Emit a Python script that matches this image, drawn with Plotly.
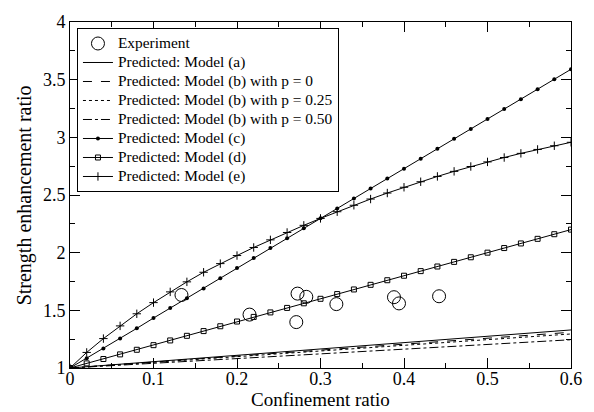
import plotly.graph_objects as go

# ---- data ----
x_model = [0.00, 0.02, 0.04, 0.06, 0.08, 0.10, 0.12, 0.14, 0.16, 0.18, 0.20,
           0.22, 0.24, 0.26, 0.28, 0.30, 0.32, 0.34, 0.36, 0.38, 0.40,
           0.42, 0.44, 0.46, 0.48, 0.50, 0.52, 0.54, 0.56, 0.58, 0.60]
model_c = [1.000, 1.085, 1.170, 1.256, 1.344, 1.433, 1.520, 1.605, 1.690, 1.778, 1.867,
           1.953, 2.040, 2.126, 2.212, 2.298, 2.384, 2.470, 2.556, 2.642, 2.728,
           2.815, 2.901, 2.987, 3.073, 3.159, 3.245, 3.331, 3.417, 3.503, 3.590]
model_d = [1.000, 1.040, 1.078, 1.118, 1.158, 1.198, 1.239, 1.279, 1.320, 1.362, 1.403,
           1.443, 1.482, 1.521, 1.561, 1.600, 1.641, 1.681, 1.721, 1.761, 1.800,
           1.840, 1.880, 1.920, 1.960, 2.000, 2.040, 2.080, 2.120, 2.160, 2.200]
model_e = [1.000, 1.135, 1.255, 1.365, 1.470, 1.567, 1.660, 1.747, 1.830, 1.905, 1.975,
           2.045, 2.111, 2.175, 2.237, 2.297, 2.355, 2.411, 2.465, 2.517, 2.567,
           2.615, 2.661, 2.705, 2.747, 2.787, 2.825, 2.861, 2.895, 2.927, 2.957]

x_line = [0.0, 0.1, 0.2, 0.3, 0.4, 0.5, 0.6]
model_a = [1.000, 1.055, 1.110, 1.165, 1.220, 1.275, 1.330]
model_b_p0 = [1.000, 1.052, 1.103, 1.155, 1.207, 1.258, 1.310]
model_b_p25 = [1.000, 1.049, 1.098, 1.148, 1.197, 1.246, 1.295]
model_b_p50 = [1.000, 1.041, 1.082, 1.123, 1.163, 1.204, 1.245]

exp_x = [0.1335, 0.215, 0.2725, 0.283, 0.271, 0.319, 0.388, 0.394, 0.442]
exp_y = [1.633, 1.463, 1.645, 1.617, 1.398, 1.554, 1.614, 1.560, 1.622]

x_ticks = [0, 0.1, 0.2, 0.3, 0.4, 0.5, 0.6]
x_tick_text = ["0", "0.1", "0.2", "0.3", "0.4", "0.5", "0.6"]
y_ticks = [1, 1.5, 2, 2.5, 3, 3.5, 4]
y_tick_text = ["1", "1.5", "2", "2.5", "3", "3.5", "4"]

series_names = ["Experiment",
                "Predicted: Model (a)",
                "Predicted: Model (b) with p = 0",
                "Predicted: Model (b) with p = 0.25",
                "Predicted: Model (b) with p = 0.50",
                "Predicted: Model (c)",
                "Predicted: Model (d)",
                "Predicted: Model (e)"]

FONT = "Liberation Serif, Times New Roman, serif"


def lg(name):
    return '<span style="font-size:15.4px">' + name + '</span>'


fig = go.Figure()
fig.add_trace(go.Scatter(x=exp_x, y=exp_y, mode="markers", name=lg(series_names[0]),
                         marker=dict(symbol="circle-open", size=13, color="black",
                                     line=dict(width=1, color="black"))))
fig.add_trace(go.Scatter(x=x_line, y=model_a, mode="lines", name=lg(series_names[1]),
                         line=dict(color="black", width=1)))
fig.add_trace(go.Scatter(x=x_line, y=model_b_p0, mode="lines", name=lg(series_names[2]),
                         line=dict(color="black", width=1, dash="dash")))
fig.add_trace(go.Scatter(x=x_line, y=model_b_p25, mode="lines", name=lg(series_names[3]),
                         line=dict(color="black", width=1, dash="dot")))
fig.add_trace(go.Scatter(x=x_line, y=model_b_p50, mode="lines", name=lg(series_names[4]),
                         line=dict(color="black", width=1, dash="dashdot")))
fig.add_trace(go.Scatter(x=x_model, y=model_c, mode="lines+markers", name=lg(series_names[5]),
                         line=dict(color="black", width=1),
                         marker=dict(symbol="circle", size=4, color="black")))
fig.add_trace(go.Scatter(x=x_model, y=model_d, mode="lines+markers", name=lg(series_names[6]),
                         line=dict(color="black", width=1),
                         marker=dict(symbol="square-open", size=5, color="black",
                                     line=dict(width=1, color="black"))))
fig.add_trace(go.Scatter(x=x_model, y=model_e, mode="lines+markers", name=lg(series_names[7]),
                         line=dict(color="black", width=1),
                         marker=dict(symbol="cross-thin", size=6, color="black",
                                     line=dict(width=1, color="black"))))

axis_common = dict(showgrid=False, zeroline=False, showline=True, linecolor="black",
                   linewidth=1, mirror="ticks", ticks="inside", ticklen=10,
                   tickcolor="black", tickwidth=1,
                   tickfont=dict(family=FONT, size=18, color="black"))

fig.update_xaxes(range=[0, 0.6], tickvals=x_ticks, ticktext=x_tick_text,
                 ticklabelstandoff=-6,
                 minor=dict(ticks="inside", ticklen=5, dtick=0.05, tickcolor="black", showgrid=False),
                 **axis_common)
fig.update_yaxes(range=[1, 4], tickvals=y_ticks, ticktext=y_tick_text,
                 minor=dict(ticks="inside", ticklen=5, dtick=0.25, tickcolor="black", showgrid=False),
                 **axis_common)

fig.update_layout(
    width=594, height=412,
    margin=dict(l=70, r=19, t=15, b=44),
    paper_bgcolor="white", plot_bgcolor="white",
    font=dict(family=FONT, color="black"),
    showlegend=True,
    legend=dict(x=0.0139, y=0.9827, xanchor="left", yanchor="top",
                bgcolor="white", bordercolor="black", borderwidth=1,
                font=dict(family=FONT, size=12, color="black"),
                tracegroupgap=0, itemwidth=30),
    annotations=[
        dict(text="Confinement ratio", xref="paper", yref="paper", x=0.5, y=-0.12465,
             xanchor="center", yanchor="bottom", showarrow=False, borderpad=0,
             font=dict(family=FONT, size=19, color="black")),
        dict(text="Strength enhancement ratio", xref="paper", yref="paper", x=-0.0911, y=0.5,
             xanchor="center", yanchor="middle", textangle=-90, showarrow=False,
             font=dict(family=FONT, size=20, color="black")),
    ],
)

fig.write_html("out.html", config={"displayModeBar": False},
               post_script="document.body.style.margin='0';document.body.style.overflow='hidden';")
